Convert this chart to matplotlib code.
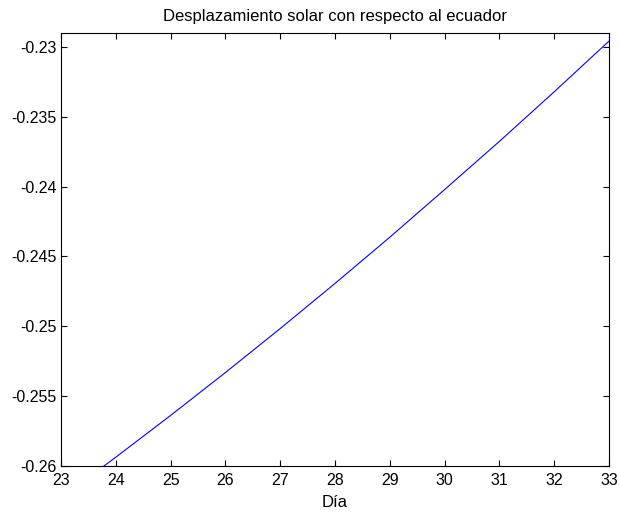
import matplotlib
matplotlib.use("Agg")
import matplotlib.pyplot as plt

# Solar displacement relative to the equator, per day
dias = [23.0, 23.74, 24.0, 25.0, 26.0, 27.0, 28.0, 29.0, 30.0, 31.0, 32.0, 33.0]
desplazamiento = [-0.26228, -0.26013, -0.25937, -0.25638, -0.25331, -0.25016,
                  -0.24693, -0.24362, -0.24021, -0.23676, -0.23321, -0.22958]

x_ticks = list(range(23, 34))
y_ticks = [-0.26, -0.255, -0.25, -0.245, -0.24, -0.235, -0.23]
y_tick_labels = ["-0.26", "-0.255", "-0.25", "-0.245", "-0.24", "-0.235", "-0.23"]

plt.rcParams['font.family'] = ['Liberation Sans', 'DejaVu Sans']

fig = plt.figure(figsize=(6.2, 5.13), dpi=100)
ax = fig.add_axes([61 / 620, 47 / 513, 548 / 620, 433 / 513])

ax.plot(dias, desplazamiento, color=(0, 0, 1), linewidth=0.8)

ax.set_xlim(23, 33)
ax.set_ylim(-0.26, -0.229)
ax.set_xticks(x_ticks)
ax.set_xticklabels([str(t) for t in x_ticks])
ax.set_yticks(y_ticks)
ax.set_yticklabels(y_tick_labels)

ax.tick_params(direction='in', length=4, width=0.8, top=True, right=True,
               labelsize=11.5, colors='black')
ax.tick_params(axis='x', pad=5)
ax.tick_params(axis='y', pad=3)
for s in ax.spines.values():
    s.set_linewidth(0.8)

ax.set_title("Desplazamiento solar con respecto al ecuador", fontsize=12, pad=9)
ax.set_xlabel("Día", fontsize=12, labelpad=5)

fig.savefig("out.png", dpi=100)
